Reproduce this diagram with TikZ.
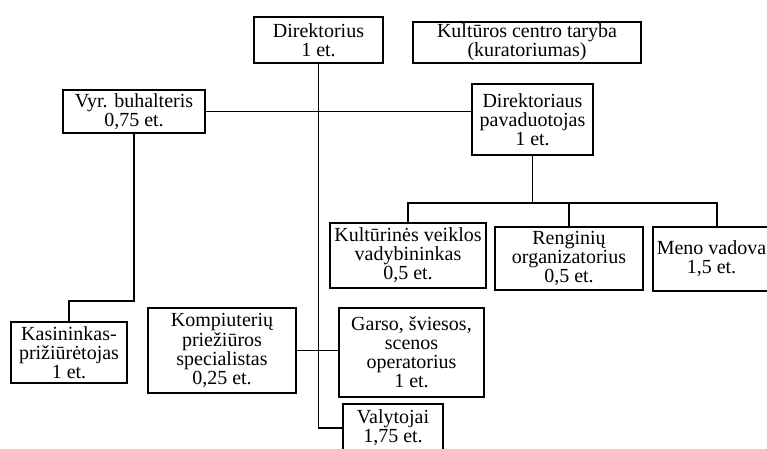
\documentclass[tikz,border=0pt]{standalone}
\usepackage{fontspec}
\setmainfont{Liberation Serif}
\tikzset{
	unit/.style={draw=black, line width=1.8pt, inner sep=0pt, align=center,
		font=\fontsize{15pt}{14.3pt}\selectfont},
	link/.style={draw=black, line width=1.4pt}
}

\begin{document}
\begin{tikzpicture}[x=0.75pt, y=-0.75pt]
		% the page
		\useasboundingbox (0, 0) rectangle (767, 449);
		\clip (0, 0) rectangle (767, 449);

		% the top
		\node[unit, minimum width=96.75pt, minimum height=34.5pt] (dir) at (318.5, 40) {Direktorius\\1 et.};
		\node[unit, minimum width=171pt, minimum height=30.75pt] (taryba) at (527, 42.5) {Kultūros centro taryba\\(kuratoriumas)};
		\node[unit, minimum width=106.5pt, minimum height=32.25pt] (buh) at (134, 111.5) {Vyr. buhalteris\\0,75 et.};
		\node[unit, minimum width=90.75pt, minimum height=53.25pt] (pav) at (532.5, 119.5) {Direktoriaus\\pavaduotojas\\1 et.};

		% the deputy's staff
		\node[unit, minimum width=117pt, minimum height=48.75pt] (kul) at (408, 255.5) {Kultūrinės veiklos\\vadybininkas\\0,5 et.};
		\node[unit, minimum width=111pt, minimum height=47.25pt] (ren) at (569, 258.5) {Renginių\\organizatorius\\0,5 et.};
		\node[unit, minimum width=87.75pt, minimum height=48pt] (meno) at (711.5, 259) {Meno vadova\\1,5 et.};

		% the lower row
		\node[unit, minimum width=87pt, minimum height=45.75pt] (kas) at (69, 352.5) {Kasininkas-\\prižiūrėtojas\\1 et.};
		\node[unit, minimum width=111pt, minimum height=63.75pt] (komp) at (222, 350.5) {Kompiuterių\\priežiūros\\specialistas\\0,25 et.};
		\node[unit, minimum width=108.75pt, minimum height=66.75pt] (garso) at (411.5, 352.5) {Garso, šviesos,\\scenos\\operatorius\\1 et.};
		\node[unit, minimum width=75pt, minimum height=36pt] (valy) at (393, 428) {Valytojai\\1,75 et.};

		% the lines
		\coordinate (bus) at (532.5, 203);
		\coordinate (kasbend) at (69, 301);
		\draw[link] (dir.south) |- (valy.west);
		\draw[link] (buh.east) -- (pav.west |- buh.east);
		\draw[link] (buh.south) |- (kasbend) -- (kas.north);
		\draw[link] (komp.east) -- (garso.west |- komp.east);
		\draw[link] (pav.south) -- (bus);
		\draw[link] (kul.north) |- (bus) -| ([xshift=4.1pt]meno.north);
		\draw[link] (ren.north) -- (ren.north |- bus);
	\end{tikzpicture}
\end{document}
